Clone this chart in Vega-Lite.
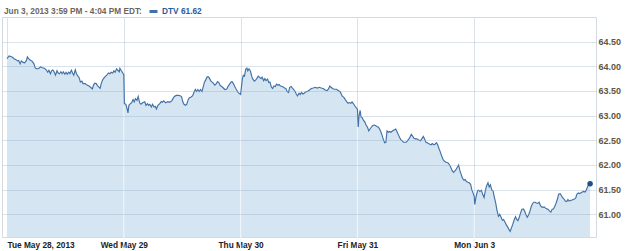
{
  "$schema": "https://vega.github.io/schema/vega-lite/v6.json",
  "autosize": "none",
  "width": 594,
  "height": 220,
  "padding": {"left": 2, "top": 17, "right": 29, "bottom": 14},
  "background": "white",
  "config": {
    "view": {"stroke": "#d3dae1", "strokeWidth": 1},
    "font": "Liberation Sans"
  },
  "datasets": {
    "price": [
      {"t":0,"v":64.155},{"t":7,"v":64.21},{"t":17,"v":64.19},{"t":24,"v":64.155},{"t":30,"v":64.135},{"t":35,"v":64.11},{"t":39,"v":64.12},{"t":44,"v":64.05},{"t":48,"v":64.11},{"t":54,"v":64.08},{"t":59,"v":64.07},{"t":65,"v":64.12},{"t":68,"v":64.19},{"t":72,"v":64.155},{"t":79,"v":64.12},{"t":83,"v":64.11},{"t":90,"v":64.05},{"t":94,"v":63.97},{"t":99,"v":63.95},{"t":103,"v":63.95},{"t":107,"v":63.96},{"t":112,"v":63.99},{"t":118,"v":63.97},{"t":125,"v":63.96},{"t":131,"v":63.93},{"t":136,"v":63.88},{"t":140,"v":63.92},{"t":145,"v":63.85},{"t":149,"v":63.91},{"t":153,"v":63.93},{"t":158,"v":63.88},{"t":162,"v":63.82},{"t":167,"v":63.91},{"t":171,"v":63.865},{"t":175,"v":63.85},{"t":180,"v":63.89},{"t":184,"v":63.85},{"t":188,"v":63.89},{"t":193,"v":63.84},{"t":197,"v":63.88},{"t":201,"v":63.84},{"t":206,"v":63.88},{"t":210,"v":63.85},{"t":215,"v":63.92},{"t":219,"v":63.865},{"t":223,"v":63.82},{"t":228,"v":63.93},{"t":232,"v":63.85},{"t":237,"v":63.80},{"t":241,"v":63.77},{"t":245,"v":63.68},{"t":250,"v":63.70},{"t":254,"v":63.65},{"t":261,"v":63.65},{"t":267,"v":63.62},{"t":274,"v":63.60},{"t":280,"v":63.57},{"t":285,"v":63.54},{"t":289,"v":63.62},{"t":293,"v":63.66},{"t":298,"v":63.65},{"t":302,"v":63.61},{"t":307,"v":63.58},{"t":311,"v":63.555},{"t":315,"v":63.66},{"t":320,"v":63.73},{"t":326,"v":63.78},{"t":333,"v":63.82},{"t":339,"v":63.865},{"t":344,"v":63.85},{"t":348,"v":63.88},{"t":353,"v":63.865},{"t":357,"v":63.91},{"t":361,"v":63.88},{"t":366,"v":63.95},{"t":370,"v":63.92},{"t":375,"v":63.89},{"t":377,"v":63.96},{"t":381,"v":63.92},{"t":385,"v":63.88},{"t":390,"v":63.83},
      {"t":392,"v":63.245},{"t":397,"v":63.23},{"t":401,"v":63.14},{"t":404,"v":63.055},{"t":407,"v":63.21},{"t":412,"v":63.245},{"t":416,"v":63.26},{"t":421,"v":63.325},{"t":425,"v":63.28},{"t":429,"v":63.345},{"t":434,"v":63.31},{"t":438,"v":63.39},{"t":443,"v":63.26},{"t":447,"v":63.23},{"t":453,"v":63.26},{"t":460,"v":63.28},{"t":464,"v":63.21},{"t":469,"v":63.245},{"t":473,"v":63.21},{"t":477,"v":63.23},{"t":482,"v":63.175},{"t":486,"v":63.23},{"t":491,"v":63.175},{"t":495,"v":63.19},{"t":499,"v":63.135},{"t":504,"v":63.21},{"t":510,"v":63.245},{"t":515,"v":63.285},{"t":519,"v":63.27},{"t":523,"v":63.30},{"t":530,"v":63.26},{"t":537,"v":63.285},{"t":543,"v":63.27},{"t":550,"v":63.30},{"t":554,"v":63.345},{"t":559,"v":63.39},{"t":565,"v":63.41},{"t":572,"v":63.41},{"t":578,"v":63.405},{"t":583,"v":63.38},{"t":587,"v":63.28},{"t":591,"v":63.23},{"t":596,"v":63.21},{"t":600,"v":63.23},{"t":605,"v":63.325},{"t":609,"v":63.365},{"t":615,"v":63.38},{"t":620,"v":63.405},{"t":624,"v":63.47},{"t":629,"v":63.53},{"t":633,"v":63.49},{"t":637,"v":63.53},{"t":642,"v":63.49},{"t":646,"v":63.53},{"t":651,"v":63.49},{"t":655,"v":63.58},{"t":659,"v":63.675},{"t":664,"v":63.73},{"t":668,"v":63.785},{"t":673,"v":63.785},{"t":677,"v":63.745},{"t":681,"v":63.70},{"t":686,"v":63.675},{"t":690,"v":63.65},{"t":694,"v":63.62},{"t":699,"v":63.65},{"t":703,"v":63.69},{"t":707,"v":63.675},{"t":712,"v":63.61},{"t":716,"v":63.595},{"t":721,"v":63.57},{"t":727,"v":63.53},{"t":734,"v":63.54},{"t":738,"v":63.595},{"t":743,"v":63.635},{"t":747,"v":63.675},{"t":751,"v":63.69},{"t":756,"v":63.65},{"t":760,"v":63.595},{"t":765,"v":63.54},{"t":769,"v":63.5},{"t":773,"v":63.46},{"t":780,"v":63.43},
      {"t":786,"v":63.75},{"t":789,"v":63.82},{"t":793,"v":63.80},{"t":797,"v":63.94},{"t":801,"v":63.965},{"t":804,"v":63.91},{"t":808,"v":63.95},{"t":813,"v":63.90},{"t":817,"v":63.80},{"t":821,"v":63.74},{"t":826,"v":63.70},{"t":830,"v":63.72},{"t":835,"v":63.76},{"t":839,"v":63.80},{"t":843,"v":63.78},{"t":848,"v":63.75},{"t":852,"v":63.78},{"t":857,"v":63.71},{"t":861,"v":63.75},{"t":865,"v":63.71},{"t":870,"v":63.74},{"t":874,"v":63.67},{"t":878,"v":63.68},{"t":883,"v":63.575},{"t":887,"v":63.55},{"t":891,"v":63.60},{"t":896,"v":63.59},{"t":900,"v":63.64},{"t":905,"v":63.615},{"t":909,"v":63.63},{"t":913,"v":63.60},{"t":920,"v":63.59},{"t":927,"v":63.56},{"t":931,"v":63.55},{"t":935,"v":63.49},{"t":940,"v":63.47},{"t":944,"v":63.575},{"t":949,"v":63.59},{"t":953,"v":63.56},{"t":957,"v":63.535},{"t":962,"v":63.49},{"t":966,"v":63.44},{"t":970,"v":63.40},{"t":975,"v":63.455},{"t":979,"v":63.43},{"t":983,"v":63.47},{"t":988,"v":63.44},{"t":992,"v":63.455},{"t":997,"v":63.48},{"t":1003,"v":63.49},{"t":1010,"v":63.52},{"t":1016,"v":63.55},{"t":1023,"v":63.56},{"t":1029,"v":63.575},{"t":1036,"v":63.56},{"t":1043,"v":63.575},{"t":1049,"v":63.56},{"t":1056,"v":63.55},{"t":1062,"v":63.52},{"t":1069,"v":63.51},{"t":1073,"v":63.535},{"t":1078,"v":63.60},{"t":1082,"v":63.575},{"t":1087,"v":63.55},{"t":1093,"v":63.535},{"t":1100,"v":63.535},{"t":1106,"v":63.51},{"t":1113,"v":63.48},{"t":1119,"v":63.40},{"t":1126,"v":63.36},{"t":1130,"v":63.32},{"t":1135,"v":63.28},{"t":1139,"v":63.25},{"t":1143,"v":63.265},{"t":1148,"v":63.25},{"t":1152,"v":63.28},{"t":1157,"v":63.24},{"t":1161,"v":63.20},{"t":1165,"v":63.17},{"t":1170,"v":63.13},
      {"t":1173,"v":62.77},{"t":1175,"v":62.975},{"t":1179,"v":63.11},{"t":1182,"v":62.975},{"t":1186,"v":62.96},{"t":1190,"v":62.91},{"t":1195,"v":62.87},{"t":1199,"v":62.81},{"t":1204,"v":62.76},{"t":1208,"v":62.69},{"t":1212,"v":62.73},{"t":1217,"v":62.77},{"t":1221,"v":62.80},{"t":1226,"v":62.81},{"t":1230,"v":62.80},{"t":1234,"v":62.785},{"t":1239,"v":62.77},{"t":1243,"v":62.745},{"t":1248,"v":62.68},{"t":1252,"v":62.61},{"t":1256,"v":62.53},{"t":1261,"v":62.45},{"t":1265,"v":62.46},{"t":1269,"v":62.69},{"t":1274,"v":62.665},{"t":1278,"v":62.68},{"t":1282,"v":62.665},{"t":1287,"v":62.69},{"t":1291,"v":62.705},{"t":1298,"v":62.73},{"t":1302,"v":62.68},{"t":1307,"v":62.61},{"t":1311,"v":62.555},{"t":1315,"v":62.515},{"t":1320,"v":62.49},{"t":1324,"v":62.46},{"t":1328,"v":62.46},{"t":1333,"v":62.46},{"t":1337,"v":62.49},{"t":1342,"v":62.53},{"t":1346,"v":62.57},{"t":1350,"v":62.62},{"t":1355,"v":62.58},{"t":1359,"v":62.54},{"t":1364,"v":62.53},{"t":1368,"v":62.53},{"t":1372,"v":62.515},{"t":1377,"v":62.50},{"t":1381,"v":62.49},{"t":1386,"v":62.54},{"t":1390,"v":62.58},{"t":1394,"v":62.53},{"t":1399,"v":62.46},{"t":1403,"v":62.45},{"t":1407,"v":62.435},{"t":1412,"v":62.42},{"t":1416,"v":62.41},{"t":1420,"v":62.435},{"t":1425,"v":62.41},{"t":1429,"v":62.42},{"t":1434,"v":62.45},{"t":1438,"v":62.41},{"t":1442,"v":62.34},{"t":1447,"v":62.26},{"t":1451,"v":62.19},{"t":1456,"v":62.11},{"t":1460,"v":62.08},{"t":1466,"v":62.055},{"t":1473,"v":62.04},{"t":1478,"v":62.00},{"t":1482,"v":61.95},{"t":1486,"v":61.89},{"t":1491,"v":61.85},{"t":1495,"v":61.875},{"t":1499,"v":61.905},{"t":1504,"v":61.96},{"t":1508,"v":62.00},{"t":1512,"v":61.89},{"t":1517,"v":61.80},{"t":1521,"v":61.73},{"t":1526,"v":61.69},{"t":1530,"v":61.705},{"t":1534,"v":61.665},{"t":1539,"v":61.65},{"t":1543,"v":61.64},{"t":1548,"v":61.61},{"t":1552,"v":61.50},{"t":1556,"v":61.435},{"t":1560,"v":61.37},
      {"t":1562,"v":61.20},{"t":1566,"v":61.355},{"t":1571,"v":61.475},{"t":1575,"v":61.49},{"t":1579,"v":61.465},{"t":1584,"v":61.49},{"t":1588,"v":61.41},{"t":1593,"v":61.34},{"t":1597,"v":61.475},{"t":1601,"v":61.57},{"t":1606,"v":61.64},{"t":1610,"v":61.555},{"t":1614,"v":61.60},{"t":1619,"v":61.49},{"t":1623,"v":61.475},{"t":1627,"v":61.355},{"t":1632,"v":61.22},{"t":1636,"v":61.085},{"t":1641,"v":60.96},{"t":1645,"v":61.00},{"t":1649,"v":60.95},{"t":1654,"v":60.88},{"t":1658,"v":60.895},{"t":1663,"v":60.84},{"t":1667,"v":60.79},{"t":1671,"v":60.75},{"t":1676,"v":60.695},{"t":1680,"v":60.655},{"t":1685,"v":60.735},{"t":1689,"v":60.80},{"t":1693,"v":60.88},{"t":1698,"v":60.95},{"t":1702,"v":60.895},{"t":1706,"v":60.87},{"t":1711,"v":60.95},{"t":1715,"v":61.03},{"t":1719,"v":61.10},{"t":1724,"v":61.11},{"t":1728,"v":61.07},{"t":1733,"v":60.99},{"t":1737,"v":60.94},{"t":1741,"v":60.98},{"t":1746,"v":61.06},{"t":1750,"v":61.15},{"t":1755,"v":61.22},{"t":1759,"v":61.245},{"t":1763,"v":61.245},{"t":1768,"v":61.23},{"t":1772,"v":61.22},{"t":1777,"v":61.245},{"t":1781,"v":61.18},{"t":1785,"v":61.15},{"t":1790,"v":61.14},{"t":1794,"v":61.15},{"t":1798,"v":61.125},{"t":1803,"v":61.11},{"t":1807,"v":61.10},{"t":1811,"v":61.07},{"t":1816,"v":61.045},{"t":1820,"v":61.10},{"t":1825,"v":61.11},{"t":1829,"v":61.165},{"t":1833,"v":61.22},{"t":1838,"v":61.31},{"t":1842,"v":61.41},{"t":1847,"v":61.42},{"t":1851,"v":61.38},{"t":1855,"v":61.34},{"t":1860,"v":61.31},{"t":1864,"v":61.27},{"t":1869,"v":61.26},{"t":1873,"v":61.30},{"t":1877,"v":61.27},{"t":1882,"v":61.285},{"t":1886,"v":61.285},{"t":1890,"v":61.30},{"t":1895,"v":61.31},{"t":1899,"v":61.33},{"t":1903,"v":61.41},{"t":1908,"v":61.435},{"t":1912,"v":61.42},{"t":1917,"v":61.435},{"t":1921,"v":61.45},{"t":1925,"v":61.465},{"t":1930,"v":61.45},{"t":1934,"v":61.49},{"t":1939,"v":61.57},{"t":1943,"v":61.60},{"t":1947,"v":61.62}
    ],
    "days": [
      {"t":390,"v":63.2},{"t":780,"v":63.42},{"t":1170,"v":62.77},{"t":1560,"v":61.2}
    ],
    "notes": [
      {"note": "© 2013 Yahoo! Inc."}
    ]
  },
  "encoding": {
    "x": {
      "field": "t", "type": "quantitative",
      "scale": {"domain": [0, 1950], "nice": false, "zero": false},
      "axis": {
        "orient": "bottom",
        "title": null,
        "values": [0, 390, 780, 1170, 1560],
        "labelExpr": "['Tue May 28, 2013','Wed May 29','Thu May 30','Fri May 31','Mon Jun 3'][round(datum.value/390)]",
        "labelAlign": {"condition": {"test": "datum.value == 0", "value": "left"}, "value": "center"},
        "labelOverlap": false,
        "grid": true, "gridColor": "#dbe2ea",
        "ticks": false, "domain": false,
        "labelPadding": 3,
        "labelFont": "Liberation Sans",
        "labelFontSize": 8.3,
        "labelFontWeight": "bold",
        "labelColor": "#222222"
      }
    },
    "y": {
      "field": "v", "type": "quantitative",
      "scale": {"domain": [60.54, 65.0], "nice": false, "zero": false},
      "axis": {
        "orient": "right",
        "title": null,
        "values": [61, 61.5, 62, 62.5, 63, 63.5, 64, 64.5],
        "tickCount": 9,
        "format": ".2f",
        "labelExpr": "datum.value >= 64.9 ? '' : datum.label",
        "labelOverlap": false,
        "grid": true,
        "gridColor": "#8fa9c4",
        "gridOpacity": 0.32,
        "ticks": false, "domain": false,
        "labelPadding": 2,
        "labelFont": "Liberation Sans",
        "labelFontSize": 9,
        "labelFontWeight": "bold",
        "labelColor": "#625645",
        "zindex": 1
      }
    }
  },
  "layer": [
    {
      "data": {"name": "price"},
      "mark": {"type": "area", "color": "#d5e5f1", "opacity": 1, "clip": true}
    },
    {
      "data": {"name": "days"},
      "mark": {"type": "bar", "color": "#f4f7fa", "width": 1, "orient": "vertical"}
    },
    {
      "data": {"name": "price"},
      "mark": {"type": "line", "strokeWidth": 1.15, "clip": true},
      "encoding": {
        "color": {
          "datum": "DTV 61.62",
          "type": "nominal",
          "scale": {"range": ["#4271a6"]},
          "legend": {
            "orient": "top",
            "offset": -3,
            "padding": 2,
            "title": "Jun 3, 2013 3:59 PM - 4:04 PM EDT:",
            "titleOrient": "left",
            "titleFont": "Liberation Sans",
            "titleFontSize": 8.3,
            "titleFontWeight": "bold",
            "titleColor": "#6f6458",
            "titlePadding": 6,
            "labelFont": "Liberation Sans",
            "labelFontSize": 8.3,
            "labelFontWeight": "bold",
            "labelColor": "#2a5d9c",
            "labelOffset": 3,
            "symbolType": "stroke",
            "symbolStrokeWidth": 3,
            "symbolSize": 64
          }
        }
      }
    },
    {
      "data": {"name": "price"},
      "transform": [{"filter": "datum.t == 1947"}],
      "mark": {"type": "point", "filled": true, "color": "#1f4e88", "size": 30, "opacity": 1}
    },
    {
      "data": {"name": "notes"},
      "mark": {"type": "text", "align": "left", "baseline": "middle", "font": "Liberation Sans", "fontSize": 8, "color": "#b3c1cd"},
      "encoding": {
        "text": {"field": "note", "type": "nominal"},
        "x": {"datum": 10, "type": "quantitative"},
        "y": {"datum": 60.66, "type": "quantitative"}
      }
    }
  ]
}
